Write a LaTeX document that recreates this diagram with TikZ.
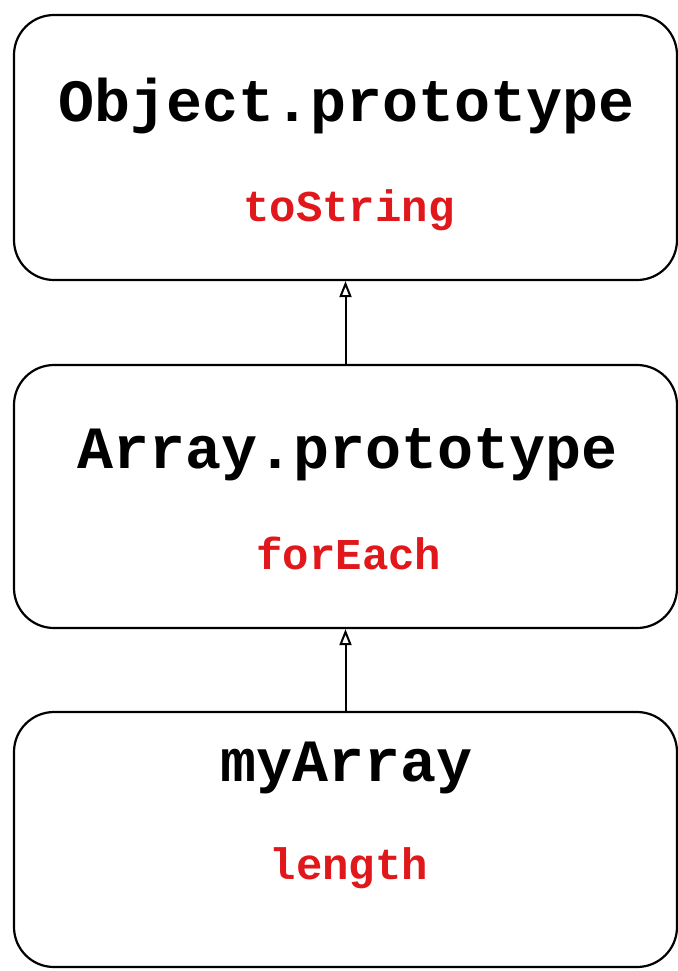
\documentclass[tikz,border=0pt]{standalone}
\usepackage{fontspec}
\setmonofont{Liberation Mono}
\usetikzlibrary{arrows.meta}
\definecolor{propred}{RGB}{224,24,28}

\begin{document}
\begin{tikzpicture}[x=0.5pt, y=-0.5pt,
  protobox/.style={draw, line width=1.1pt, rounded corners=20pt, minimum width=331.5pt},
  protoname/.style={font=\ttfamily\bfseries\fontsize{30}{30}\selectfont, inner sep=0pt},
  protoprop/.style={font=\ttfamily\bfseries\fontsize{22}{22}\selectfont, text=propred, inner sep=0pt},
  chain/.style={line width=1pt, -{Triangle[open, length=8pt, width=6pt]}}]
  \useasboundingbox (0,0) rectangle (678,971);
   % the three boxes
   \node[protobox, minimum height=132.5pt] (objbox) at (345.5,147.5) {};
   \node[protobox, minimum height=131.5pt] (arrbox) at (345.5,496.5) {};
   \node[protobox, minimum height=127.5pt] (mybox) at (345.5,839.5) {};
    \node[protoname] (objname) at (347,106) {Object.prototype};
    \node[protoprop] (objprop) at (349,210) {toString};
    \node[protoname] (arrname) at (348,455) {Array.prototype};
    \node[protoprop] (arrprop) at (349,553) {forEach};
    \node[protoname] (myname) at (347,768) {myArray};
    \node[protoprop] (myprop) at (349,868) {length};
   % links up the chain
   \draw[chain] (arrbox.north) -- (objbox.south);
   \draw[chain] (mybox.north) -- (arrbox.south);
\end{tikzpicture}
\end{document}
